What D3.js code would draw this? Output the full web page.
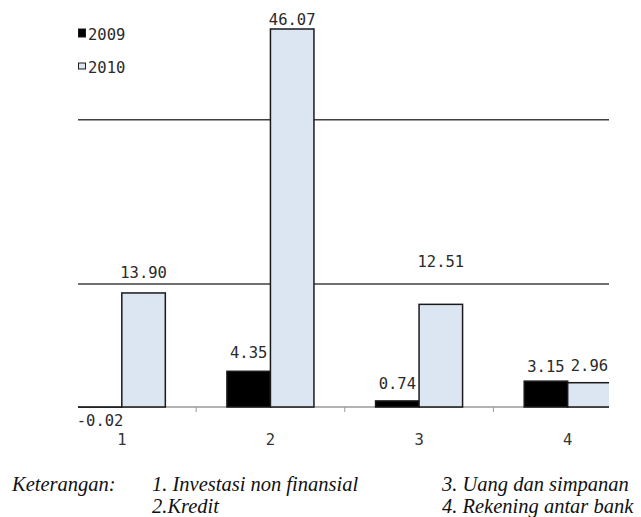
<!DOCTYPE html>
<html>
<head>
<meta charset="utf-8">
<script src="https://cdn.jsdelivr.net/npm/d3@7"></script>
<style>
  html, body { margin: 0; padding: 0; background: #fff; }
  svg { display: block; }
</style>
</head>
<body>
<svg id="chart" width="641" height="517"></svg>
<script>
// Categories and series values
const categories = ["1", "2", "3", "4"];
const seriesNames = ["2009", "2010"];
const values2009 = [-0.02, 4.35, 0.74, 3.15];
const values2010 = [13.90, 46.07, 12.51, 2.96];
const gridValues = [15, 35];

// Caption text
const captionTitle = "Keterangan:";
const captionCol1 = ["1. Investasi non finansial", "2.Kredit"];
const captionCol2 = ["3. Uang dan simpanan", "4. Rekening antar bank"];

// Vertical nudges (px) of the value labels from the bar ends
const labelDy2009 = [19, -13, -12, -9];
const labelDy2010 = [-15, -4, -37, -12];

const colors = { "2009": "#000000", "2010": "#dce6f2" };
const monoFont = "'DejaVu Sans Mono', monospace";

const svg = d3.select("#chart");

// Scales
const x0 = d3.scaleBand().domain(categories).range([47.5, 642]).paddingInner(0).paddingOuter(0);
const x1 = d3.scaleBand().domain(seriesNames).range([0, x0.bandwidth()]).paddingInner(0).paddingOuter(0.708);
const y = d3.scaleLinear().domain([-5, 55]).range([407 + 5 * 8.205, 407 - 55 * 8.205]);

// Clip for the visible plot area
svg.append("defs").append("clipPath").attr("id", "plotClip")
  .append("rect").attr("x", 78).attr("y", 0).attr("width", 531).attr("height", 517);

const plot = svg.append("g").attr("clip-path", "url(#plotClip)");

// Horizontal gridlines
plot.selectAll("line.grid").data(gridValues).enter().append("line")
  .attr("class", "grid")
  .attr("x1", 0).attr("x2", 641)
  .attr("y1", d => y(d)).attr("y2", d => y(d))
  .attr("stroke", "#404040").attr("stroke-width", 1.5);

// Category axis line
plot.append("line")
  .attr("x1", 0).attr("x2", 641)
  .attr("y1", y(0)).attr("y2", y(0))
  .attr("stroke", "#9a9a9a").attr("stroke-width", 1.5);

// Build bar records
const bars = [];
categories.forEach((c, i) => {
  bars.push({ cat: c, series: "2009", value: values2009[i], dy: labelDy2009[i] });
  bars.push({ cat: c, series: "2010", value: values2010[i], dy: labelDy2010[i] });
});

plot.selectAll("rect.bar").data(bars).enter().append("rect")
  .attr("class", "bar")
  .attr("x", d => x0(d.cat) + x1(d.series))
  .attr("width", x1.bandwidth())
  .attr("y", d => y(Math.max(0, d.value)))
  .attr("height", d => Math.abs(y(d.value) - y(0)))
  .attr("fill", d => colors[d.series])
  .attr("stroke", "#1a1a1a")
  .attr("stroke-width", 1.5);

// Tick marks between categories
const tickXs = categories.slice(1).map(c => x0(c));
svg.selectAll("line.tick").data(tickXs).enter().append("line")
  .attr("class", "tick")
  .attr("x1", d => d).attr("x2", d => d)
  .attr("y1", y(0)).attr("y2", y(0) + 5)
  .attr("stroke", "#9a9a9a").attr("stroke-width", 1);

// Category labels
svg.selectAll("text.cat").data(categories).enter().append("text")
  .attr("class", "cat")
  .attr("x", d => x0(d) + x0.bandwidth() / 2)
  .attr("y", 445)
  .attr("text-anchor", "middle")
  .attr("font-family", monoFont)
  .attr("font-size", 15.5)
  .attr("fill", "#333")
  .text(d => d);

// Value labels (plain hyphen for negatives)
const locale = d3.formatLocale({ decimal: ".", thousands: ",", grouping: [3], currency: ["", ""], minus: "-" });
const fmt = locale.format(".2f");
svg.selectAll("text.val").data(bars).enter().append("text")
  .attr("class", "val")
  .attr("x", d => x0(d.cat) + x1(d.series) + x1.bandwidth() / 2)
  .attr("y", d => y(d.value) + d.dy)
  .attr("text-anchor", "middle")
  .attr("font-family", monoFont)
  .attr("font-size", 15.5)
  .attr("fill", "#2a2a2a")
  .text(d => fmt(d.value));

// Legend
const legend = svg.append("g");
const legendRows = [
  { name: "2009", sy: 29, sh: 8, ty: 40 },
  { name: "2010", sy: 63, sh: 6, ty: 73 }
];
legend.selectAll("rect").data(legendRows).enter().append("rect")
  .attr("x", 78.5).attr("y", d => d.sy)
  .attr("width", 7).attr("height", d => d.sh)
  .attr("fill", d => colors[d.name])
  .attr("stroke", "#1a1a1a").attr("stroke-width", 1);
legend.selectAll("text").data(legendRows).enter().append("text")
  .attr("x", 88).attr("y", d => d.ty)
  .attr("font-family", monoFont)
  .attr("font-size", 15.5)
  .attr("fill", "#2a2a2a")
  .text(d => d.name);

// Caption below the chart
const cap = svg.append("g")
  .attr("font-family", "'Liberation Serif', 'Times New Roman', serif")
  .attr("font-style", "italic")
  .attr("font-size", 20.5)
  .attr("fill", "#111");
cap.append("text").attr("x", 12).attr("y", 491).text(captionTitle);
cap.selectAll("text.c1").data(captionCol1).enter().append("text")
  .attr("class", "c1").attr("x", 152).attr("y", (d, i) => 491 + i * 21.5).text(d => d);
cap.selectAll("text.c2").data(captionCol2).enter().append("text")
  .attr("class", "c2").attr("x", 442).attr("y", (d, i) => 491 + i * 21.5).text(d => d);
</script>
</body>
</html>
